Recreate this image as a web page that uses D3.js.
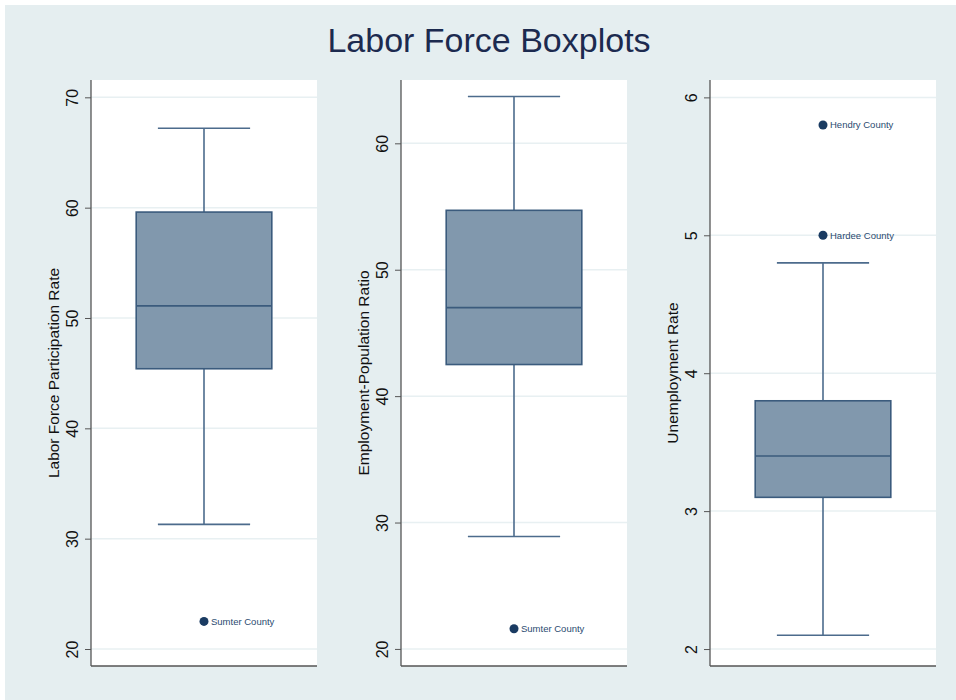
<!DOCTYPE html>
<html>
<head>
<meta charset="utf-8">
<script src="https://cdn.jsdelivr.net/npm/d3@7"></script>
<style>
  body { margin: 0; background: #ffffff; }
  svg { display: block; font-family: "Liberation Sans", Arial, sans-serif; }
</style>
</head>
<body>
<div id="chart"></div>
<script>
// Werte
const measures = ["Labor Force Participation Rate", "Employment-Population Ratio", "Unemployment Rate"];
const whiskerLow = [31.3, 28.9, 2.1];
const quartile1 = [45.4, 42.5, 3.1];
const medians = [51.1, 47.0, 3.4];
const quartile3 = [59.6, 54.7, 3.8];
const whiskerHigh = [67.2, 63.7, 4.8];
const outliers = [
    [{ county: "Sumter County", value: 22.5 }],
    [{ county: "Sumter County", value: 21.6 }],
    [{ county: "Hendry County", value: 5.8 }, { county: "Hardee County", value: 5.0 }]
];
const tickValues = [[20, 30, 40, 50, 60, 70], [20, 30, 40, 50, 60], [2, 3, 4, 5, 6]];
const axisRanges = [[18.46, 71.57], [18.65, 65.01], [1.877, 6.126]];

function drawChart() {
    const width = 956;
    const height = 700;
    const panelLeft = [91, 401, 710];
    const panelWidth = 226;
    const top = 80;
    const bottom = 666;

    const svg = d3.select("#chart")
        .append("svg")
        .attr("width", width)
        .attr("height", height);

    // Hintergrund
    svg.append("rect")
        .attr("x", 5).attr("y", 5)
        .attr("width", width - 5).attr("height", height - 5)
        .attr("fill", "#e5eef0");

    svg.append("text")
        .attr("x", 489)
        .attr("y", 52)
        .attr("text-anchor", "middle")
        .style("font-size", "34px")
        .style("fill", "#1c2a4f")
        .text("Labor Force Boxplots");

    measures.forEach((measure, i) => {
        const g = svg.append("g").attr("transform", `translate(${panelLeft[i]},0)`);

        const y = d3.scaleLinear().domain(axisRanges[i]).range([bottom, top]);
        const x = d3.scaleBand().domain([measure]).range([0, panelWidth]).padding(0.25);

        g.append("rect")
            .attr("x", 0).attr("y", top)
            .attr("width", panelWidth).attr("height", bottom - top)
            .attr("fill", "#ffffff");

        // Gitterlinien
        g.selectAll("line.grid")
            .data(tickValues[i])
            .enter()
            .append("line")
            .attr("class", "grid")
            .attr("x1", 0).attr("x2", panelWidth)
            .attr("y1", d => y(d)).attr("y2", d => y(d))
            .style("stroke", "#e8f0f2")
            .style("stroke-width", 1.5);

        const yAxis = g.append("g")
            .call(d3.axisLeft(y).tickValues(tickValues[i]).tickSize(6).tickPadding(4).tickFormat(d3.format("d")));
        yAxis.select(".domain").remove();
        yAxis.selectAll(".tick line").style("stroke", "#555").style("stroke-width", 1);
        yAxis.selectAll(".tick text")
            .attr("transform", "rotate(-90)")
            .attr("x", 0)
            .attr("y", -13)
            .attr("dy", 0)
            .attr("text-anchor", "middle")
            .style("font-size", "16px")
            .style("font-family", "'Liberation Sans', Arial, sans-serif")
            .style("fill", "#111");

        // Achsenlinien
        g.append("line")
            .attr("x1", 0).attr("x2", 0).attr("y1", top).attr("y2", bottom)
            .style("stroke", "#555").style("stroke-width", 1.3);
        g.append("line")
            .attr("x1", 0).attr("x2", panelWidth).attr("y1", bottom).attr("y2", bottom)
            .style("stroke", "#555").style("stroke-width", 1.3);

        g.append("text")
            .attr("transform", `translate(-32,${(top + bottom) / 2}) rotate(-90)`)
            .attr("text-anchor", "middle")
            .style("font-size", "15.5px")
            .style("fill", "#111")
            .text(measure);

        const cx = x(measure) + x.bandwidth() / 2;
        const capHalf = x.bandwidth() * 0.34;
        const whiskerColor = "#4c6b8c";

        // Whisker
        g.append("line")
            .attr("x1", cx).attr("x2", cx)
            .attr("y1", y(whiskerHigh[i])).attr("y2", y(quartile3[i]))
            .style("stroke", whiskerColor).style("stroke-width", 1.6);
        g.append("line")
            .attr("x1", cx).attr("x2", cx)
            .attr("y1", y(quartile1[i])).attr("y2", y(whiskerLow[i]))
            .style("stroke", whiskerColor).style("stroke-width", 1.6);
        [whiskerHigh[i], whiskerLow[i]].forEach(v => {
            g.append("line")
                .attr("x1", cx - capHalf).attr("x2", cx + capHalf)
                .attr("y1", y(v)).attr("y2", y(v))
                .style("stroke", whiskerColor).style("stroke-width", 1.6);
        });

        // Box
        g.append("rect")
            .attr("x", x(measure))
            .attr("y", y(quartile3[i]))
            .attr("width", x.bandwidth())
            .attr("height", y(quartile1[i]) - y(quartile3[i]))
            .attr("fill", "#8198ad")
            .style("stroke", "#3b5b7d")
            .style("stroke-width", 1.6);
        g.append("line")
            .attr("x1", x(measure)).attr("x2", x(measure) + x.bandwidth())
            .attr("y1", y(medians[i])).attr("y2", y(medians[i]))
            .style("stroke", "#3b5b7d").style("stroke-width", 1.6);

        // Ausreisser
        const dots = g.selectAll("g.outlier")
            .data(outliers[i])
            .enter()
            .append("g")
            .attr("class", "outlier")
            .attr("transform", d => `translate(${cx},${y(d.value)})`);
        dots.append("circle")
            .attr("r", 4.5)
            .attr("fill", "#1a3b62");
        dots.append("text")
            .attr("x", 7)
            .attr("dy", "0.35em")
            .style("font-size", "9.5px")
            .style("fill", "#2a4a70")
            .text(d => d.county);
    });
}

drawChart();
</script>
</body>
</html>
